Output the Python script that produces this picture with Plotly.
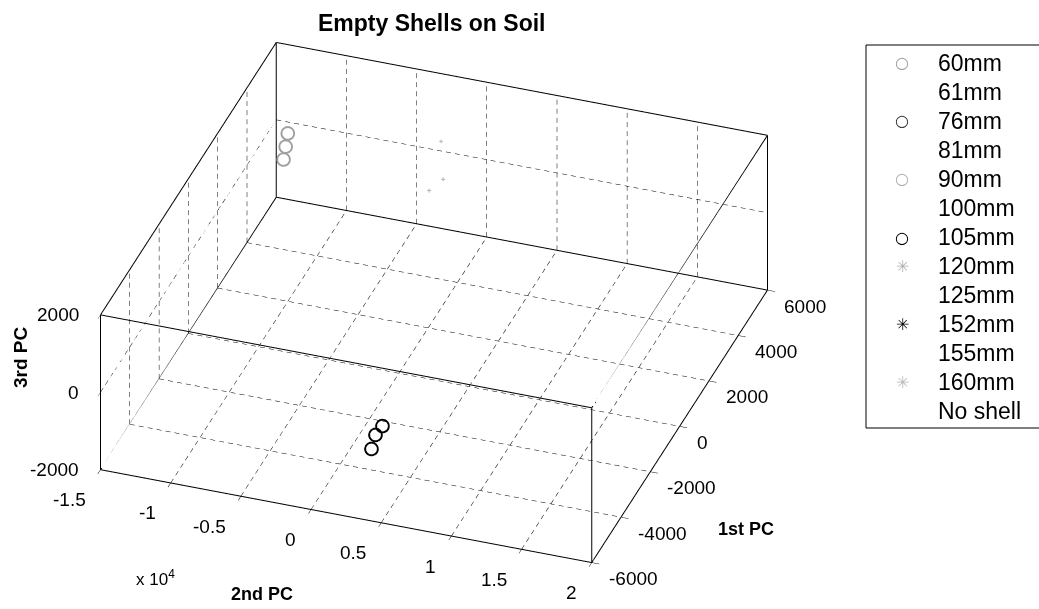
import plotly.graph_objects as go

# ---------------- data ----------------
SERIES = ["60mm", "61mm", "76mm", "81mm", "90mm", "100mm", "105mm",
          "120mm", "125mm", "152mm", "155mm", "160mm", "No shell"]

# 2nd PC (x), 1st PC (y), 3rd PC (z) scores
pc2_60mm = [-14000, -14100, -14200]
pc1_60mm = [5800, 5750, 5700]
pc3_60mm = [-160, -480, -790]

pc2_105mm = [2670, 2590, 2910]
pc1_105mm = [-3710, -4110, -4690]
pc3_105mm = [-1000, -1000, -1000]

pc2_120mm = [-2220, -2070, -3070]
pc1_120mm = [5000, 5000, 5000]
pc3_120mm = [910, -60, -420]

X_RANGE = [-15000, 20000]
Y_RANGE = [-6000, 6000]
Z_RANGE = [-2000, 2000]
X_TICKS = [-15000, -10000, -5000, 0, 5000, 10000, 15000, 20000]
X_TICKTEXT = ["-1.5", "-1", "-0.5", "0", "0.5", "1", "1.5", "2"]
Y_TICKS = [-6000, -4000, -2000, 0, 2000, 4000, 6000]
Y_TICKTEXT = ["-6000", "-4000", "-2000", "0", "2000", "4000", "6000"]
Z_TICKS = [-2000, 0, 2000]
Z_TICKTEXT = ["-2000", "0", "2000"]

# ---------------- styles ----------------
STYLE = {
    "60mm":    dict(symbol="circle-open", color="#a0a0a0", size=8, glyph="○"),
    "61mm":    dict(symbol="circle-open", color="#ffffff", size=8, glyph=""),
    "76mm":    dict(symbol="circle-open", color="#3a3a3a", size=8, glyph="○"),
    "81mm":    dict(symbol="circle-open", color="#ffffff", size=8, glyph=""),
    "90mm":    dict(symbol="circle-open", color="#b0b0b0", size=8, glyph="○"),
    "100mm":   dict(symbol="circle-open", color="#ffffff", size=8, glyph=""),
    "105mm":   dict(symbol="circle-open", color="#000000", size=8, glyph="○"),
    "120mm":   dict(symbol="cross", color="#b0b0b0", size=2, glyph="✳"),
    "125mm":   dict(symbol="cross", color="#ffffff", size=4, glyph=""),
    "152mm":   dict(symbol="cross", color="#000000", size=4, glyph="✳"),
    "155mm":   dict(symbol="cross", color="#ffffff", size=4, glyph=""),
    "160mm":   dict(symbol="cross", color="#b8b8b8", size=4, glyph="✳"),
    "No shell": dict(symbol="cross", color="#ffffff", size=4, glyph=""),
}
DATA = {
    "60mm": (pc2_60mm, pc1_60mm, pc3_60mm),
    "105mm": (pc2_105mm, pc1_105mm, pc3_105mm),
    "120mm": (pc2_120mm, pc1_120mm, pc3_120mm),
}

W, H = 1039, 609
FONT = "Liberation Sans, Arial, sans-serif"
TICK_SIZE = 19

fig = go.Figure()

xmin, xmax = X_RANGE
ymin, ymax = Y_RANGE
zmin, zmax = Z_RANGE

# dashed grid on the back walls and the floor, placed at the tick values
DASH_PERIODS = {0: 55, 1: 36, 2: 17}   # dash repeats along a full x / y / z span
DUTY = 0.55
gx, gy, gz = [], [], []


def dashed(p, q):
    k = [i for i in range(3) if p[i] != q[i]][0]
    n = DASH_PERIODS[k]
    for j in range(n):
        a = j / n
        b = (j + DUTY) / n
        pa = [p[i] + (q[i] - p[i]) * a for i in range(3)]
        pb = [p[i] + (q[i] - p[i]) * b for i in range(3)]
        gx.extend([pa[0], pb[0], None])
        gy.extend([pa[1], pb[1], None])
        gz.extend([pa[2], pb[2], None])


for xv in X_TICKS[1:-1]:
    dashed((xv, ymin, zmin), (xv, ymax, zmin))
    dashed((xv, ymax, zmin), (xv, ymax, zmax))
for yv in Y_TICKS[1:-1]:
    dashed((xmin, yv, zmin), (xmax, yv, zmin))
    dashed((xmin, yv, zmin), (xmin, yv, zmax))
for zv in Z_TICKS[1:-1]:
    dashed((xmin, ymax, zv), (xmax, ymax, zv))
    dashed((xmin, ymin, zv), (xmin, ymax, zv))

fig.add_trace(go.Scatter3d(x=gx, y=gy, z=gz, mode="lines",
                           line=dict(color="black", width=1),
                           showlegend=False, hoverinfo="skip"))

# the 12 box edges
bx, by, bz = [], [], []
corners = [(a, b, c) for a in X_RANGE for b in Y_RANGE for c in Z_RANGE]
for i, p in enumerate(corners):
    for q in corners[i + 1:]:
        if sum(1 for k in range(3) if p[k] != q[k]) == 1:
            bx.extend([p[0], q[0], None])
            by.extend([p[1], q[1], None])
            bz.extend([p[2], q[2], None])
fig.add_trace(go.Scatter3d(x=bx, y=by, z=bz, mode="lines",
                           line=dict(color="black", width=2),
                           showlegend=False, hoverinfo="skip"))

for name in SERIES:
    if name not in DATA:
        continue
    xs, ys, zs = DATA[name]
    st = STYLE[name]
    fig.add_trace(go.Scatter3d(
        x=xs, y=ys, z=zs, mode="markers", name=name, showlegend=False,
        marker=dict(symbol=st["symbol"], color=st["color"], size=st["size"],
                    line=dict(color=st["color"], width=1))))

# tick labels as scene annotations (horizontal text like the original)
scene_ann = []
for v, t in zip(X_TICKS, X_TICKTEXT):
    scene_ann.append(dict(x=v, y=ymin, z=zmin, text=t, showarrow=False,
                          xanchor="right", yanchor="middle", xshift=-13, yshift=-30,
                          font=dict(family=FONT, size=TICK_SIZE, color="black")))
for v, t in zip(Y_TICKS, Y_TICKTEXT):
    scene_ann.append(dict(x=xmax, y=v, z=zmin, text=t, showarrow=False,
                          xanchor="left", yanchor="middle", xshift=15, yshift=-16,
                          font=dict(family=FONT, size=TICK_SIZE, color="black")))
for v, t in zip(Z_TICKS, Z_TICKTEXT):
    scene_ann.append(dict(x=xmin, y=ymin, z=v, text=t, showarrow=False,
                          xanchor="right", yanchor="middle", xshift=-20, yshift=0,
                          font=dict(family=FONT, size=TICK_SIZE, color="black")))


def ax(rng, tickvals):
    return dict(range=rng, autorange=False, tickvals=tickvals,
                showticklabels=False, showgrid=False, zeroline=False,
                showbackground=False, showline=False, ticks="outside",
                ticklen=8, tickcolor="black", title=dict(text=""),
                showspikes=False)


eye_dir = (0.2772, -0.7937, 0.5415)
D = 1.6
SCALE = 1.72

# manual legend (box, symbols, labels) laid out like the MATLAB legend
LEG_LEFT, LEG_TOP, LEG_STEP = 866, 45, 29
LEG_FIRST = 63
shapes = [dict(type="rect", xref="paper", yref="paper",
               x0=LEG_LEFT / W, x1=1.01, y0=1 - (LEG_FIRST + LEG_STEP * 12 + 17) / H,
               y1=1 - LEG_TOP / H, line=dict(color="black", width=1),
               fillcolor="white", layer="above")]
annotations = []
for i, name in enumerate(SERIES):
    yc = LEG_FIRST + LEG_STEP * i
    st = STYLE[name]
    annotations.append(dict(text=name, x=936 / W, y=1 - yc / H, xref="paper",
                            yref="paper", xanchor="left", yanchor="middle",
                            showarrow=False,
                            font=dict(family=FONT, size=23, color="black")))
    if st["glyph"]:
        annotations.append(dict(text=st["glyph"], x=902 / W, y=1 - yc / H,
                                xref="paper", yref="paper", xanchor="center",
                                yanchor="middle", showarrow=False,
                                font=dict(family="DejaVu Sans", size=16,
                                          color=st["color"])))

annotations += [
    dict(text="<b>Empty Shells on Soil</b>", x=431 / W, y=1 - 23 / H,
         xref="paper", yref="paper", xanchor="center", yanchor="middle",
         showarrow=False, font=dict(family=FONT, size=23, color="black")),
    dict(text="<b>3rd PC</b>", x=21 / W, y=1 - 357 / H, textangle=-90,
         xref="paper", yref="paper", xanchor="center", yanchor="middle",
         showarrow=False, font=dict(family=FONT, size=19, color="black")),
    dict(text="<b>2nd PC</b>", x=262 / W, y=1 - 594 / H,
         xref="paper", yref="paper", xanchor="center", yanchor="middle",
         showarrow=False, font=dict(family=FONT, size=18, color="black")),
    dict(text="<b>1st PC</b>", x=746 / W, y=1 - 529 / H,
         xref="paper", yref="paper", xanchor="center", yanchor="middle",
         showarrow=False, font=dict(family=FONT, size=18, color="black")),
    dict(text="x 10<sup>4</sup>", x=155 / W, y=1 - 578 / H,
         xref="paper", yref="paper", xanchor="center", yanchor="middle",
         showarrow=False, font=dict(family=FONT, size=17, color="black")),
]

fig.update_layout(
    width=W, height=H,
    margin=dict(l=0, r=0, t=0, b=0),
    paper_bgcolor="white",
    font=dict(family=FONT, color="black"),
    showlegend=False,
    scene=dict(
        domain=dict(x=[0, 0.8354], y=[0.0066, 1.0]),
        xaxis=ax(X_RANGE, X_TICKS),
        yaxis=ax(Y_RANGE, Y_TICKS),
        zaxis=ax(Z_RANGE, Z_TICKS),
        aspectmode="manual",
        aspectratio=dict(x=1.0 * SCALE, y=1.0244 * SCALE, z=0.3539 * SCALE),
        camera=dict(projection=dict(type="orthographic"),
                    up=dict(x=0, y=0, z=1), center=dict(x=0, y=0, z=0),
                    eye=dict(x=D * eye_dir[0], y=D * eye_dir[1], z=D * eye_dir[2])),
        bgcolor="white",
        annotations=scene_ann,
    ),
    shapes=shapes,
    annotations=annotations,
)

fig.write_html("out.html", config={"displayModeBar": False},
               post_script="document.body.style.margin='0px';")
